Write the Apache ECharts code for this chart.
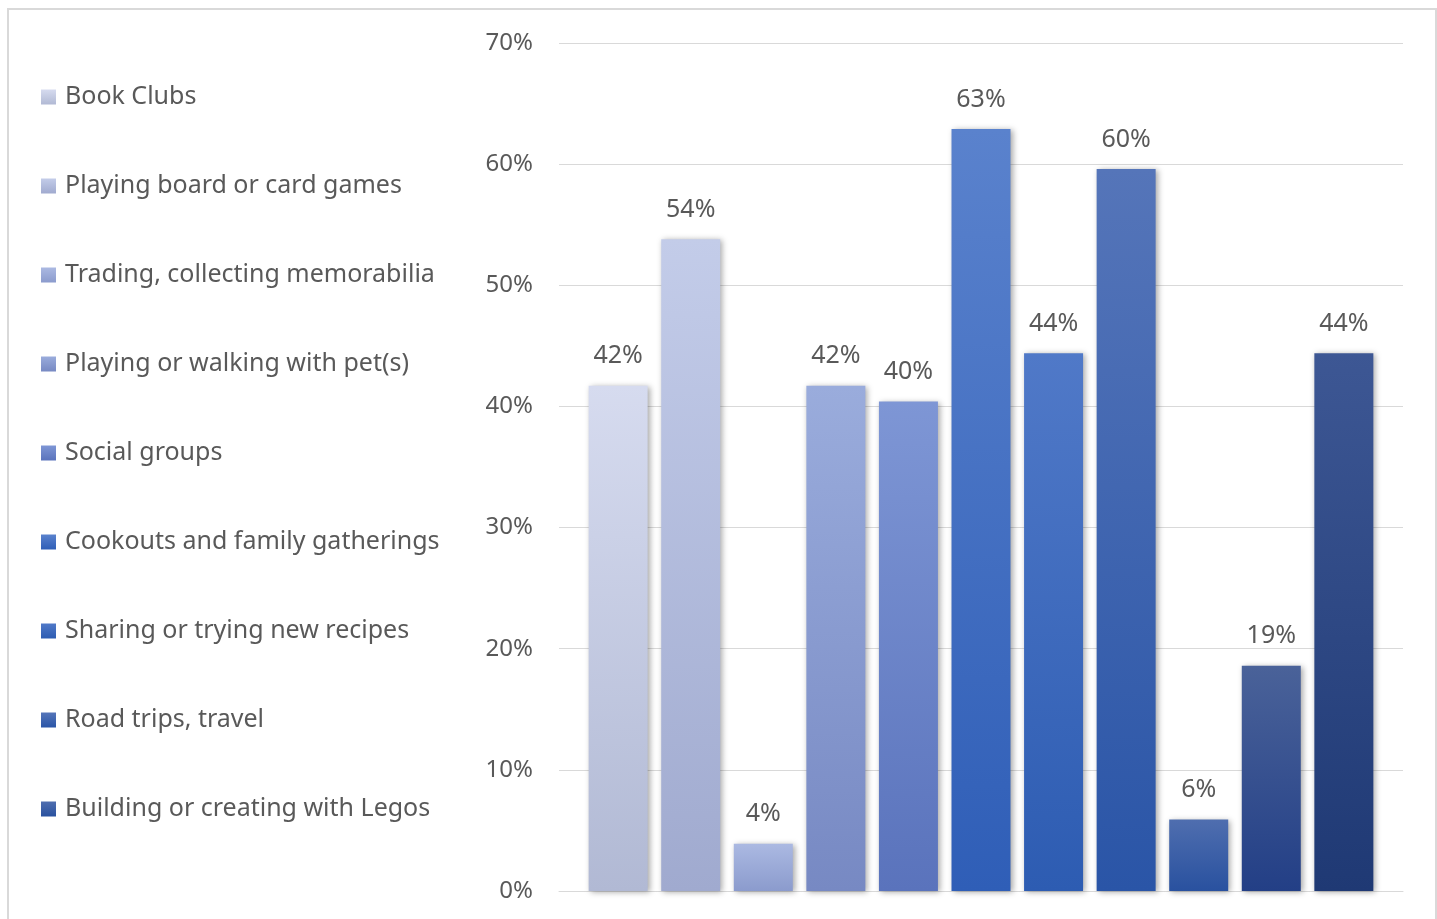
<!DOCTYPE html>
<html>
<head>
<meta charset="utf-8">
<script src="https://cdn.jsdelivr.net/npm/echarts@6/dist/echarts.min.js"></script>
<style>
html,body{margin:0;padding:0;background:#fff;}
#chart{width:1437px;height:919px;}
</style>
</head>
<body>
<div id="chart"></div>
<script>
// ---- data ----
const categories = [''];
const seriesNames = [
  'Book Clubs',
  'Playing board or card games',
  'Trading, collecting memorabilia',
  'Playing or walking with pet(s)',
  'Social groups',
  'Cookouts and family gatherings',
  'Sharing or trying new recipes',
  'Road trips, travel',
  'Building or creating with Legos',
  'Series 10',
  'Series 11'
];
const legendNames = seriesNames.slice(0, 9);
const values = [41.7, 53.8, 3.9, 41.7, 40.4, 62.9, 44.4, 59.6, 5.9, 18.6, 44.4];
const yTicks = [0, 10, 20, 30, 40, 50, 60, 70];

// palette (top, bottom of each bar gradient)
const topColors = ['#d6dbef','#c3cce9','#abb9e2','#9aacdc','#7e96d5','#5a82cd','#5079c8','#5575b9','#4f6eaf','#4a6299','#3d5794'];
const bottomColors = ['#b1b9d4','#a0aacf','#8b9bcd','#7789c3','#5a73bc','#2f5eb7','#2d5cb2','#2a55a7','#29519f','#233f86','#1f3974'];

const FONT = 'Noto Sans';
const TXT = '#595959';

const series = values.map((v, i) => ({
  name: seriesNames[i],
  type: 'bar',
  data: [v],
  barWidth: 59,
  barGap: '23%',
  itemStyle: {
    color: new echarts.graphic.LinearGradient(0, 0, 0, 1, [
      {offset: 0, color: topColors[i]},
      {offset: 1, color: bottomColors[i]}
    ]),
    shadowBlur: 6,
    shadowColor: 'rgba(0,0,0,0.35)',
    shadowOffsetX: 2,
    shadowOffsetY: 1
  },
  label: {
    show: true,
    position: 'top',
    distance: 17,
    formatter: p => Math.round(p.value) + '%',
    fontFamily: FONT,
    fontSize: 25,
    color: TXT
  }
}));

const chart = echarts.init(document.getElementById('chart'), null, {renderer: 'canvas'});
chart.setOption({
  animation: false,
  backgroundColor: '#fff',
  graphic: [{
    type: 'rect',
    shape: {x: 8, y: 9, width: 1428, height: 930},
    style: {fill: 'none', stroke: '#d9d9d9', lineWidth: 2},
    silent: true, z: -1
  }],
  legend: {
    orient: 'vertical',
    left: 36,
    top: 77,
    data: legendNames.map(n => ({name: n, icon: 'rect'})),
    itemWidth: 15,
    itemHeight: 15,
    itemGap: 59,
    textStyle: {fontFamily: FONT, fontSize: 25, color: TXT, lineHeight: 30, padding: [0, 0, 0, 4]},
    selectedMode: false
  },
  grid: {left: 559, right: 34, top: 43, bottom: 28, containLabel: false},
  xAxis: {
    type: 'category',
    data: categories,
    axisLine: {show: true, lineStyle: {color: '#d9d9d9', width: 1}},
    axisTick: {show: false},
    axisLabel: {show: false}
  },
  yAxis: {
    type: 'value',
    min: yTicks[0],
    max: yTicks[yTicks.length - 1],
    interval: 10,
    axisLine: {show: false},
    axisTick: {show: false},
    splitLine: {lineStyle: {color: '#d9d9d9', width: 1}},
    axisLabel: {
      formatter: '{value}%',
      margin: 26,
      fontFamily: FONT,
      fontSize: 24,
      color: TXT,
      padding: [4, 0, 0, 0]
    }
  },
  series: series
});
</script>
</body>
</html>
